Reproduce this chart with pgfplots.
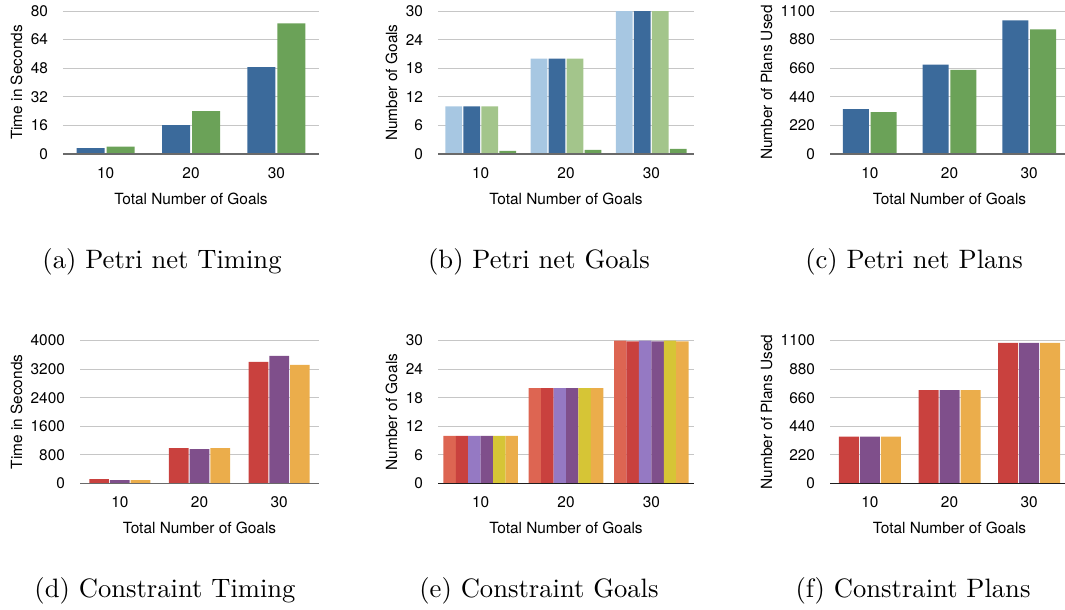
\documentclass[border=0pt]{standalone}
\usepackage{fontspec}
\usepackage{pgfplots}
\pgfplotsset{compat=1.18}

\newfontfamily\heros{TeX Gyre Heros}
\newfontfamily\capfont{lmroman10-regular.otf}
\newcommand\chartfont{\heros\fontsize{7.7pt}{9pt}\selectfont}
\newcommand\capsize{\capfont\fontsize{13.3pt}{16pt}\selectfont}

% series colours
\definecolor{cBlue}{HTML}{3B6A9B}
\definecolor{cGreen}{HTML}{6BA258}
\definecolor{cLightBlue}{HTML}{A7C7E2}
\definecolor{cLightGreen}{HTML}{A3C58B}
\definecolor{cRed}{HTML}{C9413E}
\definecolor{cPurple}{HTML}{7F4F8B}
\definecolor{cOrange}{HTML}{EBAD4B}
\definecolor{cLightRed}{HTML}{DD6552}
\definecolor{cLightPurple}{HTML}{9579C3}
\definecolor{cYellow}{HTML}{D6C536}
\definecolor{gridgray}{HTML}{C6C6C6}
\definecolor{basegray}{HTML}{6A6A6A}
\definecolor{basedark}{HTML}{1E1E1E}

\pgfplotsset{
  panel/.style={
    scale only axis, anchor=south west,
    height=71.5pt,
    xmin=0.5, xmax=3.5, xtick={1,2,3}, xticklabels={10,20,30},
    ymin=0,
    major tick length=0pt,
    axis line style={draw=none},
    ymajorgrids, grid style={draw=gridgray, line width=0.5pt},
    scaled y ticks=false,
    /pgf/number format/assume math mode=true,
    /pgf/number format/1000 sep={},
    tick label style={font=\chartfont},
    label style={font=\chartfont},
    yticklabel style={anchor=east, xshift=-4pt},
    xticklabel style={anchor=base, yshift=-12pt},
    xlabel={Total Number of Goals},
    xlabel style={at={(axis description cs:0.5,0)}, anchor=base, yshift=-25pt},
    ylabel style={at={(axis description cs:0,0.5)}, anchor=base, rotate=0},
    ybar,
    every axis plot/.append style={draw=none},
  },
}
\newcommand\baseline[1]{\draw[#1, line width=0.65pt] (axis cs:0.5,0) -- (axis cs:3.5,0);}

\begin{document}
\begin{tikzpicture}

% (a) Petri net timing
\begin{axis}[panel, at={(31.5pt,-77pt)}, width=128pt,
  ymax=80, ytick={0,16,32,48,64,80},
  ylabel={Time in Seconds}, ylabel style={yshift=20.5pt},
  bar width=14pt, ybar=1pt]
\addplot[fill=cBlue] coordinates {(1,3.35) (2,16.2) (3,48.6)};
\addplot[fill=cGreen] coordinates {(1,4.1) (2,24.0) (3,73.1)};
\baseline{basegray}
\end{axis}

% (b) Petri net goals
\begin{axis}[panel, at={(219pt,-77pt)}, width=128pt,
  ymax=30, ytick={0,6,12,18,24,30},
  ylabel={Number of Goals}, ylabel style={yshift=20.5pt},
  bar width=8.35pt, ybar=0.65pt]
\addplot[fill=cLightBlue] coordinates {(1,10) (2,20) (3,30)};
\addplot[fill=cBlue] coordinates {(1,10) (2,20) (3,30)};
\addplot[fill=cLightGreen] coordinates {(1,10) (2,20) (3,30)};
\addplot[fill=cGreen] coordinates {(1,0.63) (2,0.84) (3,1.05)};
\baseline{basegray}
\end{axis}

% (c) Petri net plans
\begin{axis}[panel, at={(415pt,-77pt)}, width=119.5pt,
  ymax=1100, ytick={0,220,440,660,880,1100},
  ylabel={Number of Plans Used}, ylabel style={yshift=29pt},
  bar width=13pt, ybar=0.85pt]
\addplot[fill=cBlue] coordinates {(1,346) (2,687) (3,1028)};
\addplot[fill=cGreen] coordinates {(1,323) (2,648) (3,958)};
\baseline{basegray}
\end{axis}

% (d) Constraint timing
\begin{axis}[panel, at={(40pt,-241.75pt)}, width=119.5pt,
  ymax=4000, ytick={0,800,1600,2400,3200,4000},
  ylabel={Time in Seconds}, ylabel style={yshift=29pt},
  bar width=9.85pt, ybar=0.5pt]
\addplot[fill=cRed] coordinates {(1,121) (2,991) (3,3402)};
\addplot[fill=cPurple] coordinates {(1,93) (2,963) (3,3570)};
\addplot[fill=cOrange] coordinates {(1,93) (2,991) (3,3318)};
\baseline{basegray}
\end{axis}

% (e) Constraint goals
\begin{axis}[panel, at={(219pt,-241.75pt)}, width=128pt,
  ymax=30, ytick={0,6,12,18,24,30},
  ylabel={Number of Goals}, ylabel style={yshift=20.5pt},
  bar width=6.22pt, ybar=0pt]
\addplot[fill=cLightRed] coordinates {(1,10) (2,20) (3,30)};
\addplot[fill=cRed] coordinates {(1,10) (2,20) (3,29.8)};
\addplot[fill=cLightPurple] coordinates {(1,10) (2,20) (3,30)};
\addplot[fill=cPurple] coordinates {(1,10) (2,20) (3,29.8)};
\addplot[fill=cYellow] coordinates {(1,10) (2,20) (3,30)};
\addplot[fill=cOrange] coordinates {(1,10) (2,20) (3,29.8)};
\baseline{basedark}
\end{axis}

% (f) Constraint plans
\begin{axis}[panel, at={(415pt,-241.75pt)}, width=119.5pt,
  ymax=1100, ytick={0,220,440,660,880,1100},
  ylabel={Number of Plans Used}, ylabel style={yshift=29pt},
  bar width=10pt, ybar=0.5pt]
\addplot[fill=cRed] coordinates {(1,361) (2,718) (3,1082)};
\addplot[fill=cPurple] coordinates {(1,361) (2,718) (3,1082)};
\addplot[fill=cOrange] coordinates {(1,361) (2,718) (3,1082)};
\baseline{basedark}
\end{axis}

% sub-figure captions
\node[anchor=base, font=\capsize] at (81pt,-134pt) {(a) Petri net Timing};
\node[anchor=base, font=\capsize] at (269.5pt,-134pt) {(b) Petri net Goals};
\node[anchor=base, font=\capsize] at (457pt,-134pt) {(c) Petri net Plans};
\node[anchor=base, font=\capsize] at (82.5pt,-298.5pt) {(d) Constraint Timing};
\node[anchor=base, font=\capsize] at (269.5pt,-298.5pt) {(e) Constraint Goals};
\node[anchor=base, font=\capsize] at (456.5pt,-298.5pt) {(f) Constraint Plans};

\pgfresetboundingbox
\useasboundingbox (0,0) rectangle (532.5pt,-305pt);
\end{tikzpicture}
\end{document}
